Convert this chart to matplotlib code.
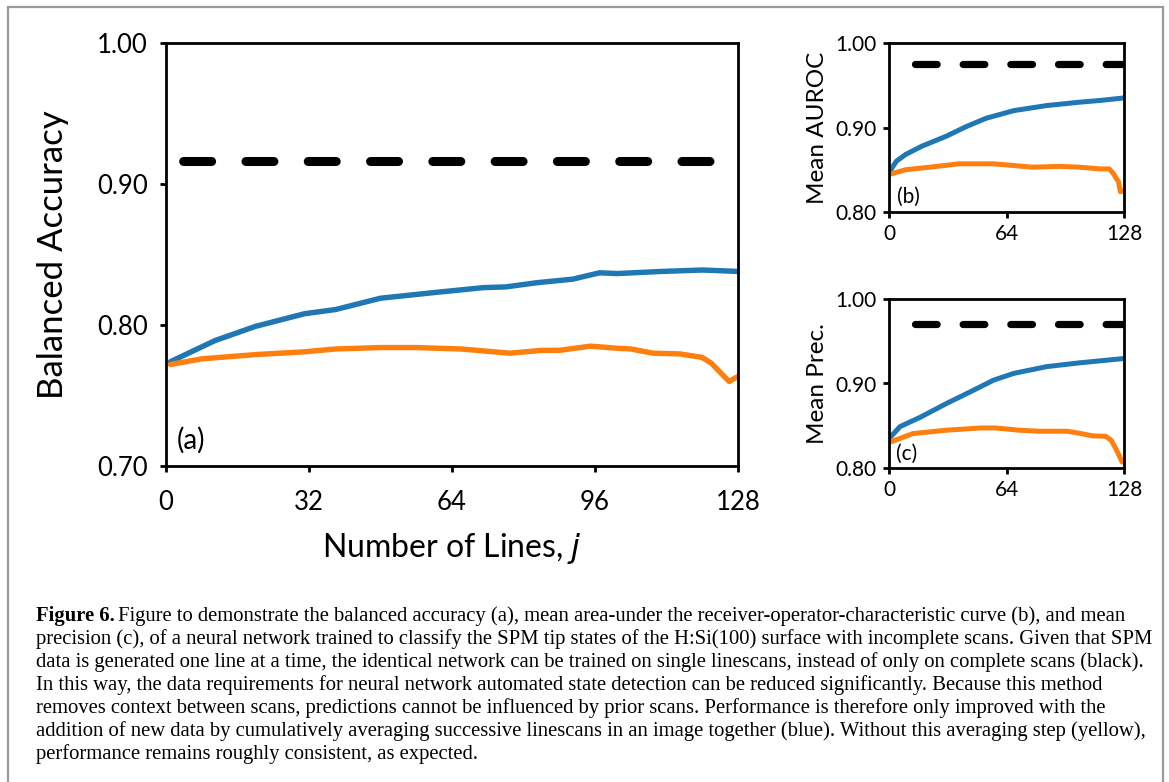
import numpy as np
import matplotlib
matplotlib.use('Agg')
from matplotlib import pyplot as plt
from matplotlib.patches import Rectangle

# ---- data ----
# (a) balanced accuracy
a_blue_j = [1, 11, 20, 31, 38, 48, 54, 60, 71, 76, 83, 91, 97, 101, 111, 120, 128]
a_blue = [0.774, 0.789, 0.799, 0.808, 0.811, 0.819, 0.821, 0.823, 0.8265, 0.827,
          0.830, 0.8325, 0.837, 0.8365, 0.838, 0.839, 0.838]
a_orange_j = [1, 8, 20, 31, 38, 48, 56, 66, 77, 84, 88, 95, 101, 104, 109, 115,
              119, 120, 122, 124, 126, 128]
a_orange = [0.772, 0.776, 0.779, 0.781, 0.783, 0.784, 0.784, 0.783, 0.780, 0.782,
            0.782, 0.785, 0.7835, 0.783, 0.780, 0.7795, 0.7775, 0.777, 0.773,
            0.7665, 0.760, 0.7635]
a_full = 0.916

# (b) mean AUROC
b_blue_j = [1, 4, 9, 18, 31, 42, 53, 68, 86, 104, 115, 128]
b_blue = [0.850, 0.860, 0.868, 0.878, 0.8895, 0.901, 0.911, 0.920, 0.926, 0.930,
          0.932, 0.935]
b_orange_j = [1, 9, 22, 38, 57, 68, 78, 93, 104, 115, 120, 122, 125, 126, 128]
b_orange = [0.845, 0.850, 0.853, 0.857, 0.857, 0.855, 0.853, 0.854, 0.853, 0.851,
            0.851, 0.846, 0.836, 0.824, 0.8255]
b_full = 0.975

# (c) mean precision
c_blue_j = [1, 6, 17, 31, 46, 57, 68, 86, 104, 128]
c_blue = [0.837, 0.849, 0.860, 0.876, 0.892, 0.904, 0.912, 0.920, 0.9245, 0.9296]
c_orange_j = [1, 13, 31, 50, 58, 71, 82, 97, 104, 111, 118, 121, 124, 127]
c_orange = [0.831, 0.8407, 0.8447, 0.8474, 0.8474, 0.8447, 0.8435, 0.8435, 0.841,
            0.838, 0.8375, 0.833, 0.821, 0.807]
c_full = 0.970

caption_head = "Figure 6."
caption_lines = [
    "Figure to demonstrate the balanced accuracy (a), mean area-under the receiver-operator-characteristic curve (b), and mean",
    "precision (c), of a neural network trained to classify the SPM tip states of the H:Si(100) surface with incomplete scans. Given that SPM",
    "data is generated one line at a time, the identical network can be trained on single linescans, instead of only on complete scans (black).",
    "In this way, the data requirements for neural network automated state detection can be reduced significantly. Because this method",
    "removes context between scans, predictions cannot be influenced by prior scans. Performance is therefore only improved with the",
    "addition of new data by cumulatively averaging successive linescans in an image together (blue). Without this averaging step (yellow),",
    "performance remains roughly consistent, as expected.",
]

BLUE = '#1f77b4'
ORANGE = '#ff7f0e'
SANS = ['Lato', 'DejaVu Sans']
SERIF = ['Liberation Serif', 'DejaVu Serif']

fig = plt.figure(figsize=(11.69, 7.82), dpi=100)
W, H = 1169.0, 782.0


def px_axes(l, t, r, b):
    return fig.add_axes([l / W, 1 - b / H, (r - l) / W, (b - t) / H])


def style(ax, yticks, xticks, tsize, label, lsize, panel, psize, pj, py, full,
          blue_j, blue, orange_j, orange, dlw, dash, lw):
    ax.plot(blue_j, blue, color=BLUE, lw=lw, solid_capstyle='round')
    ax.plot(orange_j, orange, color=ORANGE, lw=lw, solid_capstyle='round')
    ax.plot([0, 128], [full, full], color='black', lw=dlw,
            linestyle=dash, dash_capstyle='round')
    ax.set_xlim(0, 128)
    ax.set_ylim(yticks[0], yticks[-1])
    ax.set_yticks(yticks)
    ax.set_yticklabels(['%.2f' % v for v in yticks], family=SANS, fontsize=tsize)
    ax.set_xticks(xticks)
    ax.set_xticklabels([str(v) for v in xticks], family=SANS, fontsize=tsize)
    for s in ax.spines.values():
        s.set_linewidth(2.0)
    ax.tick_params(direction='out', length=4, width=2)
    ax.set_ylabel(label, family=SANS, fontsize=lsize)
    ax.text(pj, py, panel, family=SANS, fontsize=psize, va='bottom', ha='left')


axa = px_axes(166, 43, 738, 466)
style(axa, [0.70, 0.80, 0.90, 1.00], [0, 32, 64, 96, 128], 18.5,
      'Balanced Accuracy', 25, '(a)', 20, 2.3, 0.7085, a_full,
      a_blue_j, a_blue, a_orange_j, a_orange, 6.5, (5.0, (3.1, 3.8)), 3.9)
axa.tick_params(axis='y', pad=9)
axa.tick_params(axis='x', pad=13)
axa.yaxis.set_label_coords(-0.17, 0.5)
axa.set_xlabel('Number of Lines, $\\mathit{j}$', family=SANS, fontsize=23,
               labelpad=12)

axb = px_axes(889, 43, 1124, 212)
style(axb, [0.80, 0.90, 1.00], [0, 64, 128], 15,
      'Mean AUROC', 17.5, '(b)', 15, 4.5, 0.806, b_full,
      b_blue_j, b_blue, b_orange_j, b_orange, 5.2, (3.0, (3.0, 3.6)), 3.6)
axb.tick_params(axis='y', pad=5)
axb.tick_params(axis='x', pad=5)
axb.yaxis.set_label_coords(-0.26, 0.5)

axc = px_axes(889, 299, 1124, 468)
style(axc, [0.80, 0.90, 1.00], [0, 64, 128], 15,
      'Mean Prec.', 17.5, '(c)', 15, 4.0, 0.805, c_full,
      c_blue_j, c_blue, c_orange_j, c_orange, 5.2, (3.0, (3.0, 3.6)), 3.6)
axc.tick_params(axis='y', pad=5)
axc.tick_params(axis='x', pad=5)
axc.yaxis.set_label_coords(-0.26, 0.5)

# grey frame round the whole figure
fig.patches.append(Rectangle((8 / W, -0.05), (1163 - 8) / W, 1.05 - 7 / H,
                             transform=fig.transFigure, fill=False,
                             edgecolor='#9a9a9a', lw=1.6))

# caption: pick the font size so the widest line spans the text block
renderer = fig.canvas.get_renderer()
probe = fig.text(0, 0, caption_lines[2], family=SERIF, fontsize=10)
w10 = probe.get_window_extent(renderer).width
probe.remove()
csize = 10 * (1150 - 36) / w10

y0 = 616
step = 23.0
for i, line in enumerate(caption_lines):
    y = 1 - (y0 + i * step) / H
    x = 36 / W
    if i == 0:
        t = fig.text(x, y, caption_head, family=SERIF, fontsize=csize,
                     fontweight='bold', va='center')
        bb = t.get_window_extent(renderer)
        x = (bb.x1 + 0.25 * csize) / W
    fig.text(x, y, line, family=SERIF, fontsize=csize, va='center')

fig.savefig('out.png', dpi=100)
